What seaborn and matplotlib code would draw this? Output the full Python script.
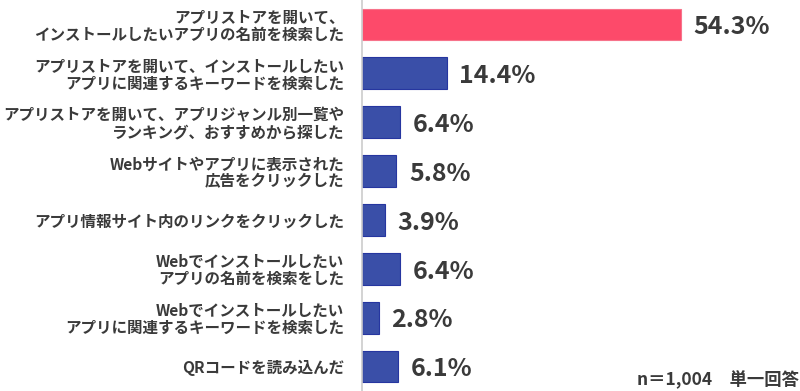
import matplotlib
matplotlib.use("Agg")
import matplotlib.pyplot as plt
import seaborn as sns
import pandas as pd

# Data
labels = [
    "アプリストアを開いて、\nインストールしたいアプリの名前を検索した",
    "アプリストアを開いて、インストールしたい\nアプリに関連するキーワードを検索した",
    "アプリストアを開いて、アプリジャンル別一覧や\nランキング、おすすめから探した",
    "Webサイトやアプリに表示された\n広告をクリックした",
    "アプリ情報サイト内のリンクをクリックした",
    "Webでインストールしたい\nアプリの名前を検索をした",
    "Webでインストールしたい\nアプリに関連するキーワードを検索した",
    "QRコードを読み込んだ",
]
values = [54.3, 14.4, 6.4, 5.8, 3.9, 6.4, 2.8, 6.1]
highlight = [True, False, False, False, False, False, False, False]
note = "n＝1,004　単一回答"

sns.set_theme(style="white")
plt.rcParams['font.family'] = ['Noto Sans CJK JP', 'DejaVu Sans']

text_color = "#3a3a3a"
red = "#fd4a6a"
blue = "#3a4fa8"

df = pd.DataFrame({"label": labels, "value": values,
                   "group": ["hi" if h else "lo" for h in highlight]})

fig = plt.figure(figsize=(8, 3.91), dpi=100)
ax = fig.add_axes([0.453, 0.0, 0.547, 1.0])

sns.barplot(data=df, y="label", x="value", hue="group", orient="h",
            palette={"hi": red, "lo": blue}, dodge=False, width=0.65,
            saturation=1, legend=False, ax=ax)

for patch, h in zip(ax.patches, highlight):
    patch.set_edgecolor("#f7738b" if h else "#2636a0")
    patch.set_linewidth(0.8)

ax.set_xlim(0, 74.6)
ax.set_ylim(7.5, -0.5)
ax.set_xlabel("")
ax.set_ylabel("")
ax.set_xticks([])

for i, v in enumerate(values):
    ax.annotate(f"{v}%", xy=(v, i), xytext=(9, -2), textcoords="offset points",
                ha="left", va="center", fontsize=18, fontweight="bold",
                color=text_color)

ax.tick_params(axis="y", length=0, pad=13)
for t in ax.get_yticklabels():
    t.set_fontsize(11.2)
    t.set_fontweight("bold")
    t.set_color(text_color)
    t.set_linespacing(1.05)
    t.set_horizontalalignment("right")

for s in ["top", "right", "bottom"]:
    ax.spines[s].set_visible(False)
ax.spines["left"].set_color("#cccccc")
ax.spines["left"].set_linewidth(1.2)

fig.text(0.796, 0.028, note, ha="left", va="center", fontsize=12.5,
         fontweight="bold", color=text_color)

fig.savefig("out.png", dpi=100)
